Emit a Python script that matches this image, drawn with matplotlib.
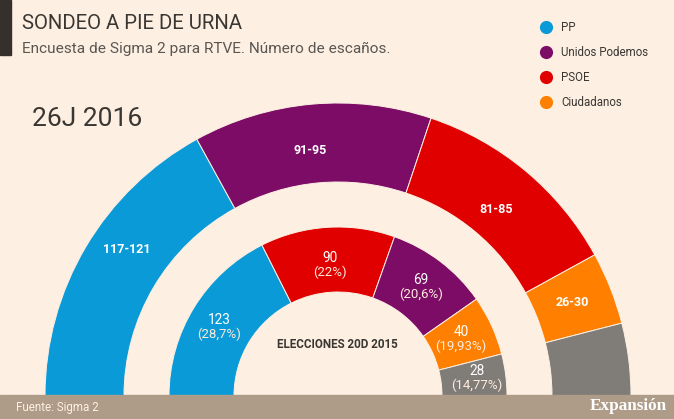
import matplotlib
matplotlib.use("Agg")
import matplotlib.pyplot as plt
from matplotlib.patches import Rectangle

WIDTH, HEIGHT = 674, 419
BG = "#FDF0E3"
FOOTER = "#AE9C88"
DARK = "#3A3632"

# seats, 26J poll (midpoint of each range) and 20D result
PARTIES = ["PP", "Unidos Podemos", "PSOE", "Ciudadanos"]
POLL_SEATS = [119, 92, 83, 28, 28]
POLL_LABELS = ["117-121", "91-95", "81-85", "26-30"]
RESULT_SEATS = [123, 90, 69, 40, 28]
RESULT_COUNTS = ["123", "90", "69", "40", "28"]
RESULT_SHARES = ["(28,7%)", "(22%)", "(20,6%)", "(19,93%)", "(14,77%)"]

# colours per slice, inner ring swaps the order of the parties
POLL_COLORS = ["#0A9AD7", "#7C0C66", "#E00000", "#FF7F00", "#807C78"]
RESULT_COLORS = ["#0A9AD7", "#E00000", "#7C0C66", "#FF7F00", "#807C78"]
LEGEND_COLORS = ["#0A9AD7", "#7C0C66", "#E00000", "#FF7F00"]

plt.rcParams["font.family"] = ["Roboto", "DejaVu Sans"]


def ring(ax, seats, colors, radius, width, center):
    # half circle: the last hidden slice takes the lower half
    wedges, _ = ax.pie(
        seats + [sum(seats)],
        colors=colors + ["none"],
        radius=radius,
        center=center,
        startangle=180,
        counterclock=False,
        frame=True,
        wedgeprops=dict(width=width, edgecolor=BG, linewidth=0.7),
    )
    wedges[-1].set_visible(False)


def px(x, y):
    # picture pixels, origin top left, to data coordinates
    return x, HEIGHT - y


def main():
    fig = plt.figure(figsize=(WIDTH / 100, HEIGHT / 100), dpi=100, facecolor=BG)
    ax = fig.add_axes([0, 0, 1, 1])

    center = px(338, 396)
    ring(ax, POLL_SEATS, POLL_COLORS, 293, 79, center)
    ring(ax, RESULT_SEATS, RESULT_COLORS, 169, 65, center)

    ax.set_xlim(0, WIDTH)
    ax.set_ylim(0, HEIGHT)
    ax.set_aspect("equal")
    ax.set_facecolor(BG)
    ax.axis("off")

    ax.add_patch(Rectangle((0, 0), WIDTH, 24, color=FOOTER, zorder=5))
    ax.add_patch(Rectangle((0, HEIGHT - 55), 11, 55, color="#35302C", zorder=5))

    # header
    ax.text(*px(22, 23), "SONDEO A PIE DE URNA", fontsize=14.7, color=DARK, va="center")
    ax.text(*px(22, 49), "Encuesta de Sigma 2 para RTVE. Número de escaños.",
            fontsize=11.1, color="#5A5652", va="center")
    ax.text(*px(32, 119), "26J 2016", fontsize=19, color=DARK, va="center")

    # legend
    for i, (name, col) in enumerate(zip(PARTIES, LEGEND_COLORS)):
        y = 27 + i * 25
        ax.scatter(*px(546, y), s=90, color=col, linewidths=0, zorder=3)
        ax.text(*px(561, y), name, fontsize=8.3, color=DARK, va="center")

    # outer ring labels
    for label, (x, y) in zip(POLL_LABELS, [(127, 249), (310, 150), (496, 209), (572, 302)]):
        ax.text(*px(x, y), label, fontsize=9, color="white", ha="center", va="center",
                zorder=4, fontweight="bold")

    # inner ring labels
    spots = [(219, 320), (330, 258), (421, 280), (461, 332), (477, 371)]
    for count, share, (x, y) in zip(RESULT_COUNTS, RESULT_SHARES, spots):
        ax.text(*px(x, y), count, fontsize=9.8, color="white", ha="center", va="center",
                zorder=4)
        ax.text(*px(x, y + 14), share, fontsize=9.5, color="#FDEBDD", ha="center",
                va="center", zorder=4)

    ax.text(*px(337, 345), "ELECCIONES 20D 2015", fontsize=8.4, color=DARK, ha="center",
            va="center", fontweight="bold")

    # footer
    ax.text(*px(16, 407), "Fuente: Sigma 2", fontsize=8.4, color=BG, va="center", zorder=6)
    ax.text(*px(667, 406), "Expansión", fontsize=12.3, color="white", ha="right", va="center",
            family="Liberation Serif", fontweight="bold", zorder=6)

    fig.savefig("out.png", dpi=100, facecolor=BG)


if __name__ == "__main__":
    main()
